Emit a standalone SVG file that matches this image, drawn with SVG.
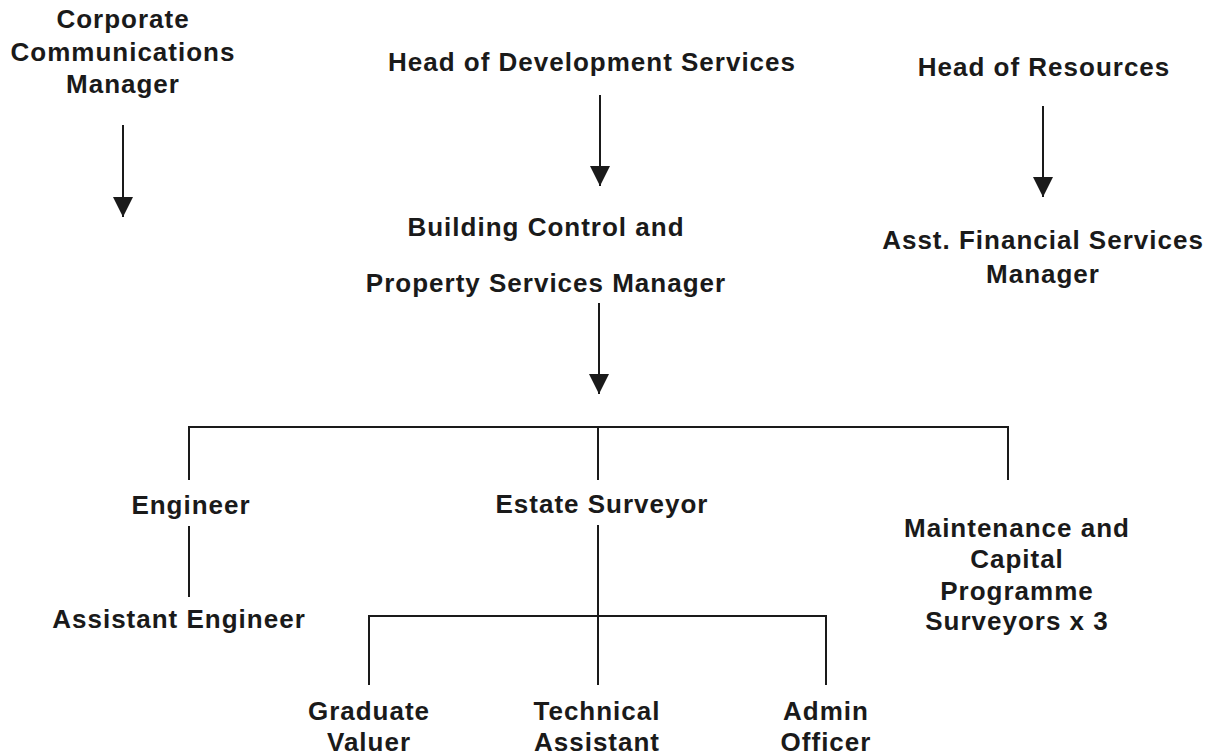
<svg xmlns="http://www.w3.org/2000/svg" width="1219" height="756" viewBox="0 0 1219 756">
<defs>
<marker id="ah" markerUnits="userSpaceOnUse" markerWidth="20" markerHeight="20" viewBox="0 0 18 18" refX="18" refY="9" orient="auto">
<path d="M0,0 L18,9 L0,18 Z" fill="#1a1a1a"/>
</marker>
<style>
text{font-family:"Liberation Sans",Arial,sans-serif;font-weight:bold;font-size:26px;letter-spacing:1px;fill:#1a1a1a;text-anchor:middle}
.c{stroke:#1a1a1a;stroke-width:2;fill:none}
.a{marker-end:url(#ah)}
</style>
</defs>
<rect width="1219" height="756" fill="#fff"/>
<g id="connectors">
<line class="c a" x1="123" y1="125" x2="123" y2="217"/>
<line class="c a" x1="600" y1="95" x2="600" y2="186"/>
<line class="c a" x1="599" y1="303" x2="599" y2="394"/>
<line class="c a" x1="1043" y1="106" x2="1043" y2="197"/>
<polyline class="c" points="189,480 189,427 1008,427 1008,480"/>
<line class="c" x1="598" y1="427" x2="598" y2="480"/>
<line class="c" x1="189" y1="526" x2="189" y2="597"/>
<line class="c" x1="598" y1="525" x2="598" y2="685"/>
<polyline class="c" points="369,685 369,616 826,616 826,685"/>
</g>
<g id="corporate-communications-manager"><text x="123" y="28">Corporate</text><text x="123" y="61">Communications</text><text x="123" y="93">Manager</text></g>
<g id="head-of-development-services"><text x="592" y="71">Head of Development Services</text></g>
<g id="head-of-resources"><text x="1044" y="76">Head of Resources</text></g>
<g id="building-control-manager"><text x="546" y="236">Building Control and</text><text x="546" y="292">Property Services Manager</text></g>
<g id="asst-financial-services-manager"><text x="1043" y="249">Asst. Financial Services</text><text x="1043" y="283">Manager</text></g>
<g id="engineer"><text x="191" y="514">Engineer</text></g>
<g id="assistant-engineer"><text x="179" y="628">Assistant Engineer</text></g>
<g id="estate-surveyor"><text x="602" y="513">Estate Surveyor</text></g>
<g id="maintenance-surveyors"><text x="1017" y="537">Maintenance and</text><text x="1017" y="568">Capital</text><text x="1017" y="600">Programme</text><text x="1017" y="630">Surveyors x 3</text></g>
<g id="graduate-valuer"><text x="369" y="720">Graduate</text><text x="369" y="751">Valuer</text></g>
<g id="technical-assistant"><text x="597" y="720">Technical</text><text x="597" y="751">Assistant</text></g>
<g id="admin-officer"><text x="826" y="720">Admin</text><text x="826" y="751">Officer</text></g>
</svg>
